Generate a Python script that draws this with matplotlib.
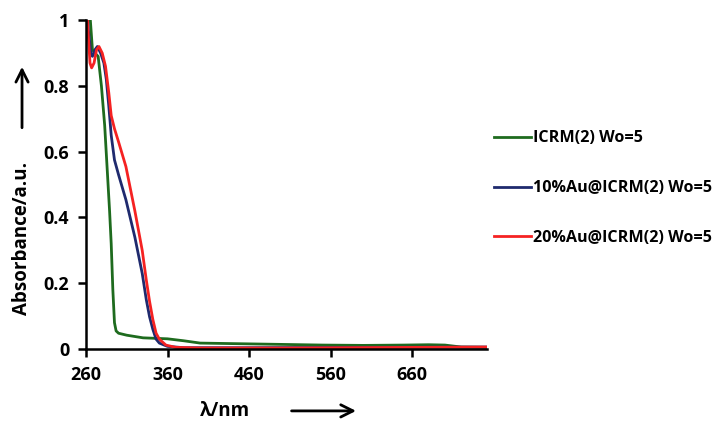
#!/usr/bin/env python3

import matplotlib
matplotlib.use("Agg")
import matplotlib.pyplot as plt

# absorbance spectra
wl_icrm = [264, 266, 268, 271, 275, 279, 283, 286, 289, 291, 293, 295, 297, 300, 310,
           330, 350, 360, 380, 400, 450, 500, 550, 600, 650, 680, 700, 720, 750]
abs_icrm = [1.05, 0.98, 0.91, 0.90, 0.89, 0.80, 0.68, 0.55, 0.42, 0.32, 0.18, 0.08, 0.055, 0.048, 0.042,
            0.034, 0.032, 0.031, 0.025, 0.018, 0.016, 0.014, 0.012, 0.011, 0.012, 0.013, 0.012, 0.006, 0.005]

wl_au10 = [261, 263, 266, 268, 271, 274, 278, 282, 285, 288, 291, 295, 300, 309, 320,
           329, 334, 338, 342, 346, 350, 360, 380, 450, 600, 750]
abs_au10 = [1.05, 0.97, 0.90, 0.89, 0.91, 0.92, 0.90, 0.87, 0.82, 0.74, 0.65, 0.575, 0.53, 0.454, 0.34,
            0.23, 0.15, 0.098, 0.06, 0.03, 0.018, 0.008, 0.004, 0.004, 0.005, 0.006]

wl_au20 = [261, 263, 265, 267, 270, 273, 276, 280, 284, 288, 291, 295, 300, 309, 320,
           329, 334, 338, 342, 346, 350, 358, 370, 400, 500, 750]
abs_au20 = [1.05, 0.95, 0.87, 0.855, 0.87, 0.91, 0.92, 0.90, 0.86, 0.78, 0.71, 0.67, 0.63, 0.555, 0.42,
            0.30, 0.21, 0.145, 0.09, 0.048, 0.03, 0.012, 0.005, 0.003, 0.003, 0.006]

labels = ["ICRM(2) Wo=5", "10%Au@ICRM(2) Wo=5", "20%Au@ICRM(2) Wo=5"]
colors = ["#1e6b1e", "#1f2a6e", "#f52222"]

x_ticks = [260, 360, 460, 560, 660]
y_ticks = [0, 0.2, 0.4, 0.6, 0.8, 1]
y_tick_labels = ["0", "0.2", "0.4", "0.6", "0.8", "1"]

tick_font = {'family': 'Open Sans', 'weight': 'bold', 'size': 13}
title_font = {'family': 'Open Sans', 'weight': 'bold', 'size': 13.5}

fig = plt.figure(figsize=(7.22, 4.21), dpi=100)
ax = fig.add_axes([0.119, 0.171, 0.556, 0.781])

linewidth = 2.0
ax.plot(wl_icrm, abs_icrm, color=colors[0], linewidth=linewidth, label=labels[0])
ax.plot(wl_au10, abs_au10, color=colors[1], linewidth=linewidth, label=labels[1])
ax.plot(wl_au20, abs_au20, color=colors[2], linewidth=linewidth, label=labels[2])

ax.set_xlim(260, 752)
ax.set_ylim(0, 1)
ax.set_xticks(x_ticks)
ax.set_xticklabels([str(t) for t in x_ticks], **tick_font)
ax.set_yticks(y_ticks)
ax.set_yticklabels(y_tick_labels, **tick_font)

for side in ['top', 'right']:
    ax.spines[side].set_visible(False)
for side in ['left', 'bottom']:
    ax.spines[side].set_linewidth(1.8)
ax.tick_params(direction='out', length=6, width=1.8, pad=6)

# axis titles with arrows, placed in figure coordinates
fig.text(0.031, 0.433, "Absorbance/a.u.", rotation=90, ha='center', va='center', **title_font)
fig.text(0.312, 0.024, "λ/nm", ha='center', va='center', **title_font)

arrow = dict(arrowstyle='->', lw=2.0, color='black', mutation_scale=22)
fig.add_artist(matplotlib.patches.FancyArrowPatch((0.0305, 0.69), (0.0305, 0.848),
                                                  transform=fig.transFigure, **arrow))
fig.add_artist(matplotlib.patches.FancyArrowPatch((0.400, 0.024), (0.497, 0.024),
                                                  transform=fig.transFigure, **arrow))

fig.legend(loc='center left', bbox_to_anchor=(0.684, 0.553), frameon=False,
           borderpad=0, borderaxespad=0, handlelength=2.3, handletextpad=0.15,
           labelspacing=2.1, prop={'family': 'Open Sans', 'weight': 'bold', 'size': 11.6})

fig.savefig("out.png", dpi=100)
